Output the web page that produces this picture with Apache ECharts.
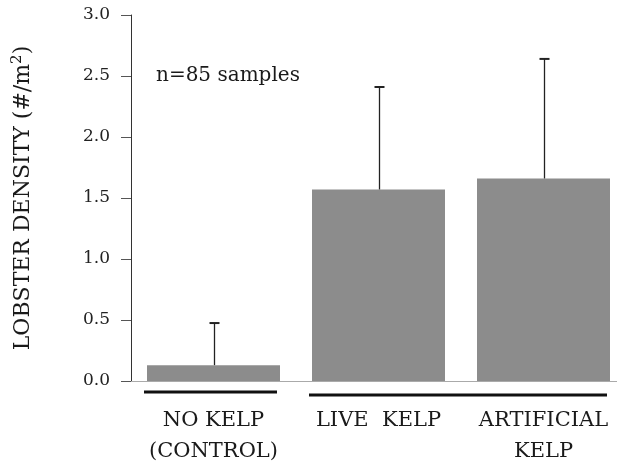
<!DOCTYPE html>
<html>
  <head>
    <meta charset="utf-8">
    <title></title>
    <style>
      html, body { margin: 0; padding: 0; background: #fff; }
      #wrap { width: 617px; height: 465px; }
    </style>
    <script src="https://cdn.jsdelivr.net/npm/echarts@6/dist/echarts.min.js" charset="utf-8"></script>
  </head>
  <body>
    <div id="wrap"></div>
    <script>
      // values
      var categories = ['NO KELP\n(CONTROL)', 'LIVE  KELP', 'ARTIFICIAL\nKELP'];
      var means = [0.13, 1.57, 1.66];
      var upper = [0.475, 2.41, 2.64];
      var yTicks = [0, 0.5, 1.0, 1.5, 2.0, 2.5, 3.0];
      // underlines grouping the bars: [first index, last index]
      var groups = [[0, 0], [1, 2]];

      var serif = '"DejaVu Serif", "Liberation Serif", serif';
      var barWidth = 133;

      var chart = echarts.init(document.getElementById('wrap'));

      var errData = means.map(function (m, i) {
        return [i, m, upper[i]];
      });

      var option = {
        animation: false,
        grid: { left: 131, right: -9, top: 15, bottom: 84, outerBoundsMode: 'none', containLabel: false },
        title: {
          text: 'n=85 samples',
          left: 151,
          top: 61,
          textStyle: { fontFamily: serif, fontSize: 20, fontWeight: 'normal', color: '#1a1a1a' }
        },
        xAxis: {
          type: 'category',
          data: categories,
          axisTick: { show: false },
          axisLine: { lineStyle: { color: '#aaa', width: 1 } },
          axisLabel: {
            interval: 0,
            hideOverlap: false,
            margin: 24,
            fontFamily: serif,
            fontSize: 21,
            lineHeight: 31,
            color: '#1a1a1a'
          }
        },
        yAxis: {
          type: 'value',
          min: yTicks[0],
          max: yTicks[yTicks.length - 1],
          interval: 0.5,
          name: 'LOBSTER DENSITY (#/m{sup|2})',
          nameLocation: 'middle',
          nameGap: 94,
          nameTextStyle: {
            fontFamily: serif,
            fontSize: 22,
            color: '#1a1a1a',
            rich: {
              sup: { fontFamily: serif, fontSize: 15, verticalAlign: 'top', padding: [0, 0, 12, 0], color: '#1a1a1a' }
            }
          },
          splitLine: { show: false },
          axisLine: { show: true, lineStyle: { color: '#333', width: 1 } },
          axisTick: { show: true, length: 10, lineStyle: { color: '#555' } },
          axisLabel: {
            margin: 21,
            fontFamily: serif,
            fontSize: 17,
            color: '#222',
            formatter: function (v) { return v.toFixed(1); }
          }
        },
        series: [
          {
            type: 'bar',
            data: means,
            barWidth: barWidth,
            itemStyle: { color: '#8c8c8c' },
            z: 2
          },
          {
            type: 'custom',
            data: errData,
            z: 3,
            renderItem: function (params, api) {
              var lo = api.coord([api.value(0), api.value(1)]);
              var hi = api.coord([api.value(0), api.value(2)]);
              var x = Math.round(hi[0]) + 0.5;
              return {
                type: 'group',
                children: [
                  { type: 'line', shape: { x1: x, y1: lo[1], x2: x, y2: hi[1] },
                    style: { stroke: '#222', lineWidth: 1.3 } },
                  { type: 'line', shape: { x1: x - 5, y1: hi[1], x2: x + 5, y2: hi[1] },
                    style: { stroke: '#222', lineWidth: 2 } }
                ]
              };
            }
          }
        ]
      };
      chart.setOption(option);

      // thick lines under the bar groups
      var base = chart.convertToPixel({ yAxisIndex: 0 }, 0);
      var lines = groups.map(function (g, k) {
        var x0 = chart.convertToPixel({ xAxisIndex: 0 }, g[0]) - barWidth / 2 - 3;
        var x1 = chart.convertToPixel({ xAxisIndex: 0 }, g[1]) + barWidth / 2 - 3;
        var y = base + 11 + k * 3;
        return {
          type: 'line',
          shape: { x1: x0, y1: y, x2: x1, y2: y },
          style: { stroke: '#111', lineWidth: 3 }
        };
      });
      chart.setOption({ graphic: lines });
    </script>
  </body>
</html>
